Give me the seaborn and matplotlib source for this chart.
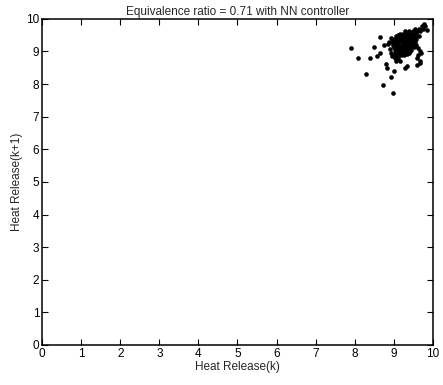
import matplotlib
matplotlib.use("Agg")
import matplotlib.pyplot as plt
import seaborn as sns
import pandas as pd

title = "Equivalence ratio = 0.71 with NN controller"
xlabel = "Heat Release(k)"
ylabel = "Heat Release(k+1)"
ticks = [0, 1, 2, 3, 4, 5, 6, 7, 8, 9, 10]

# Heat release at step k (x) and k+1 (y)
heat_k = [
    # dense core, row by row
    9.15, 9.24, 9.33, 9.42, 9.50, 9.58,
    9.05, 9.13, 9.22, 9.31, 9.39, 9.47, 9.56, 9.64,
    8.98, 9.07, 9.16, 9.25, 9.33, 9.41, 9.50, 9.58,
    8.95, 9.03, 9.12, 9.20, 9.29, 9.37, 9.46, 9.54,
    8.97, 9.06, 9.14, 9.23, 9.31, 9.40, 9.48, 9.57,
    9.00, 9.09, 9.17, 9.26, 9.34, 9.43, 9.51,
    9.02, 9.10, 9.19, 9.27, 9.36, 9.44,
    9.04, 9.12, 9.21, 9.29, 9.38,
    9.01, 9.09, 9.18, 9.27,
    9.03, 9.12,
    # in-between fill
    9.10, 9.20, 9.29, 9.38, 9.46, 9.54,
    9.02, 9.11, 9.20, 9.28, 9.37, 9.45, 9.53,
    9.05, 9.14, 9.23, 9.32, 9.41, 9.49,
    9.06, 9.15, 9.24, 9.32, 9.41,
    9.08, 9.16, 9.25, 9.33,
    # upper-right extension
    9.30, 9.40, 9.50, 9.60, 9.68,
    9.55, 9.65, 9.74, 9.72, 9.80, 9.85, 9.78,
    # left arm and scattered edge
    8.88, 8.92, 8.85, 8.90, 8.93, 8.96, 9.62, 9.66, 9.70,
    9.59, 9.63, 9.68, 9.15, 9.05,
    # outliers
    7.90, 8.08, 8.39, 8.57, 8.29, 8.72, 8.98, 8.93, 9.28, 9.59,
    8.64, 8.75, 8.82, 8.66, 8.50, 8.80, 9.00, 9.35, 9.68,
]
heat_k1 = [
    9.55, 9.55, 9.55, 9.55, 9.55, 9.55,
    9.47, 9.47, 9.47, 9.47, 9.47, 9.47, 9.47, 9.47,
    9.38, 9.38, 9.38, 9.38, 9.38, 9.38, 9.38, 9.38,
    9.30, 9.30, 9.30, 9.30, 9.30, 9.30, 9.30, 9.30,
    9.21, 9.21, 9.21, 9.21, 9.21, 9.21, 9.21, 9.21,
    9.13, 9.13, 9.13, 9.13, 9.13, 9.13, 9.13,
    9.04, 9.04, 9.04, 9.04, 9.04, 9.04,
    8.96, 8.96, 8.96, 8.96, 8.96,
    8.88, 8.88, 8.88, 8.88,
    8.80, 8.80,
    9.51, 9.51, 9.51, 9.51, 9.51, 9.51,
    9.34, 9.34, 9.34, 9.34, 9.34, 9.34, 9.34,
    9.17, 9.17, 9.17, 9.17, 9.17, 9.17,
    9.00, 9.00, 9.00, 9.00, 9.00,
    8.92, 8.92, 8.92, 8.92,
    9.63, 9.63, 9.63, 9.63, 9.63,
    9.70, 9.70, 9.70, 9.78, 9.78, 9.66, 9.84,
    9.30, 9.40, 9.22, 9.08, 8.95, 8.86, 9.10, 9.02, 8.94,
    8.80, 8.88, 8.72, 8.72, 8.70,
    9.11, 8.80, 8.80, 8.87, 8.31, 7.98, 7.73, 8.22, 8.50, 8.59,
    9.45, 9.20, 8.50, 8.95, 9.15, 8.62, 8.40, 8.55, 8.66,
]

df = pd.DataFrame({"k": heat_k, "k1": heat_k1})

sns.set_style("white")
plt.rcParams["font.family"] = ["Liberation Sans", "DejaVu Sans"]

fig = plt.figure(figsize=(4.43, 3.85), dpi=100)
ax = fig.add_axes([0.095, 0.104, 0.882, 0.847])
sns.scatterplot(data=df, x="k", y="k1", ax=ax, color="black", s=8,
                edgecolor="black", linewidth=0.4, legend=False)
ax.set_xlim(0, 10)
ax.set_ylim(0, 10)
ax.set_xticks(ticks)
ax.set_yticks(ticks)
ax.set_xticklabels([str(t) for t in ticks])
ax.set_yticklabels([str(t) for t in ticks])
ax.tick_params(direction="in", length=4, width=0.8, labelsize=8.5,
               top=True, right=True, bottom=True, left=True, pad=2, colors="black")
for sp in ax.spines.values():
    sp.set_color("black")
    sp.set_linewidth(1.1)
ax.set_title(title, fontsize=8.5, pad=3)
ax.set_xlabel(xlabel, fontsize=8.5, labelpad=1)
ax.set_ylabel(ylabel, fontsize=8.5, labelpad=2)
fig.savefig("out.png", dpi=100)
